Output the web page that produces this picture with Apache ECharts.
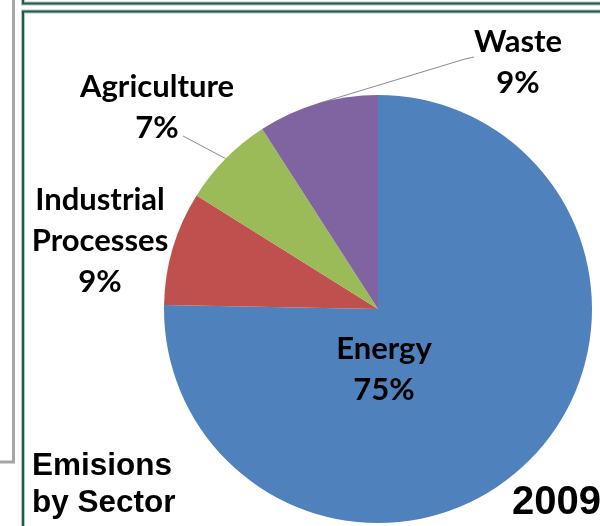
<!DOCTYPE html>
<html>
<head>
<meta charset="utf-8">
<script src="https://cdn.jsdelivr.net/npm/echarts@6/dist/echarts.min.js"></script>
<style>
html,body{margin:0;padding:0;background:#fff;}
#chart{width:600px;height:526px;}
</style>
</head>
<body>
<div id="chart"></div>
<script>
// Data
const sectors = ['Energy', 'Industrial Processes', 'Agriculture', 'Waste'];
const shares = [75.3, 8.6, 7.0, 9.1];
const labelPercents = [75, 9, 7, 9];
const sectorColors = ['#4F81BD', '#C0504D', '#9BBB59', '#8064A2'];
const titleLines = ['Emisions', 'by Sector'];
const yearText = '2009';

// Layout (positions, not data)
const labelSpots = [[384, 369], [100, 241], [157, 107], [518, 62]];
// where the leader line meets the label, relative to label centre
const lineEnds = [null, null, [[26, 29]], [[-53, -3], [-44, -5]]];
const showLine = [false, false, true, true];

const chart = echarts.init(document.getElementById('chart'), null, {renderer: 'canvas'});

const teal = '#1E5B4C';
const shadow = '#B8C4C0';
const gray = '#A6A6A6';

const option = {
  backgroundColor: '#ffffff',
  animation: false,
  graphic: [
    {type: 'polyline', shape: {points: [[13.5, 0], [13.5, 462], [0, 462]]}, style: {stroke: gray, lineWidth: 3, fill: null}},
    {type: 'polyline', shape: {points: [[23, 0], [23, 3.5], [600, 3.5]]}, style: {stroke: shadow, lineWidth: 4, fill: null}},
    {type: 'polyline', shape: {points: [[23, 0], [23, 3.5], [600, 3.5]]}, style: {stroke: teal, lineWidth: 2, fill: null}},
    {type: 'polyline', shape: {points: [[23, 526], [23, 11.5], [600, 11.5]]}, style: {stroke: shadow, lineWidth: 4, fill: null}},
    {type: 'polyline', shape: {points: [[23, 526], [23, 11.5], [600, 11.5]]}, style: {stroke: teal, lineWidth: 2, fill: null}},
    {type: 'text', left: 32, top: 448, style: {text: titleLines.join('\n'), font: 'bold 31.5px "Liberation Sans", Arial, sans-serif', fill: '#000', lineHeight: 37}},
    {type: 'text', left: 512, top: 483, style: {text: yearText, font: 'bold 40px "Liberation Sans", Arial, sans-serif', fill: '#000'}}
  ],
  series: [{
    type: 'pie',
    center: [378, 309],
    radius: 214,
    startAngle: 90,
    clockwise: true,
    avoidLabelOverlap: false,
    itemStyle: {borderWidth: 0},
    emphasis: {disabled: true},
    label: {
      show: true,
      position: 'outside',
      color: '#000',
      fontFamily: 'Lato, "Open Sans", sans-serif',
      fontWeight: 'bold',
      fontSize: 31,
      lineHeight: 41,
      align: 'center',
      formatter: function (p) {
        return p.name.replace(' ', '\n') + '\n' + labelPercents[p.dataIndex] + '%';
      }
    },
    labelLine: {show: true, lineStyle: {color: '#8C8C8C', width: 1}, length: 10, length2: 10},
    labelLayout: function (p) {
      const s = labelSpots[p.dataIndex];
      const out = {x: s[0], y: s[1], align: 'center', verticalAlign: 'middle'};
      const ends = lineEnds[p.dataIndex];
      if (ends && p.labelLinePoints && p.labelLinePoints.length) {
        const pts = [p.labelLinePoints[0].slice()];
        ends.forEach(function (e) { pts.push([s[0] + e[0], s[1] + e[1]]); });
        out.labelLinePoints = pts;
      }
      return out;
    },
    data: sectors.map(function (name, i) {
      return {
        name: name,
        value: shares[i],
        itemStyle: {color: sectorColors[i]},
        labelLine: {show: showLine[i]}
      };
    })
  }]
};
chart.setOption(option);
</script>
</body>
</html>
